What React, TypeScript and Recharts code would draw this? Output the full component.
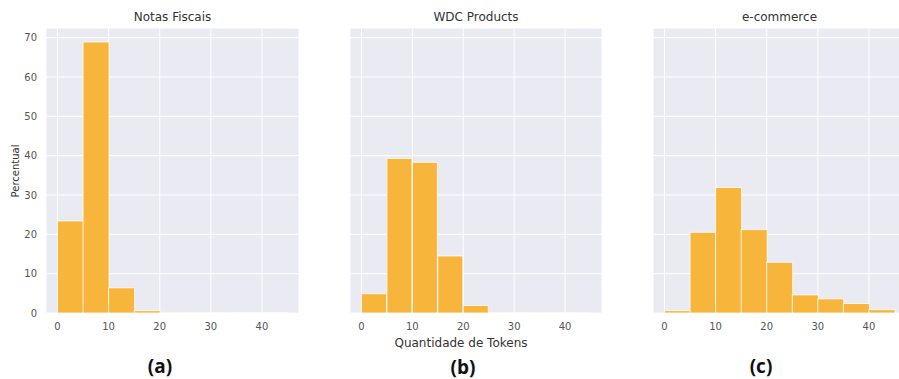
import React from 'react';
import { BarChart, Bar, XAxis, YAxis, CartesianGrid } from 'recharts';

const binStarts = [0, 5, 10, 15, 20, 25, 30, 35, 40];
const notasFiscais = [23.4, 68.9, 6.4, 0.6, 0.15, 0.05, 0.02, 0.01, 0.01];
const wdcProducts = [4.9, 39.3, 38.3, 14.5, 1.9, 0.1, 0.05, 0.08, 0.02];
const ecommerce = [0.6, 20.5, 31.9, 21.2, 12.9, 4.6, 3.6, 2.4, 0.85];
const xTicks = [0, 10, 20, 30, 40];
const yTicks = [0, 10, 20, 30, 40, 50, 60, 70];
const titles = ['Notas Fiscais', 'WDC Products', 'e-commerce'];
const panelLabels = ['(a)', '(b)', '(c)'];

const BIN = 5;
const toRows = (vals: number[]) => binStarts.map((s, i) => ({ x: s + BIN / 2, v: vals[i] }));

const FONT = '"DejaVu Sans", sans-serif';
const tickStyle = { fontSize: 10, fill: '#555', fontFamily: FONT };

function Panel({ vals, showY, width, marginLeft }: { vals: number[]; showY: boolean; width: number; marginLeft: number }) {
  return (
    <BarChart
      width={width}
      height={340}
      data={toRows(vals)}
      margin={{ top: 28, right: 10, bottom: 0, left: marginLeft }}
      barCategoryGap={0}
      barGap={0}
    >
      <CartesianGrid fill="#EAEAF2" stroke="#FFFFFF" strokeWidth={1} />
      <XAxis
        dataKey="x"
        type="number"
        domain={[-2.25, 47.25]}
        ticks={xTicks}
        height={27}
        axisLine={false}
        tickLine={false}
        tickSize={6}
        tickMargin={4}
        tick={tickStyle}
        allowDataOverflow
      />
      <YAxis
        type="number"
        domain={[0, 72.45]}
        ticks={yTicks}
        width={showY ? 46 : 0}
        hide={!showY}
        axisLine={false}
        tickLine={false}
        tickSize={6}
        tickMargin={3}
        tick={tickStyle}
        allowDataOverflow
      />
      <Bar dataKey="v" fill="#F8B53C" stroke="#FFFFFF" strokeOpacity={0.8} strokeWidth={1} isAnimationActive={false} />
    </BarChart>
  );
}

const textBox = (cx: number, cy: number, text: string, style: React.CSSProperties) => (
  <div
    style={{
      position: 'absolute',
      left: cx - 100,
      top: cy - 10,
      width: 200,
      height: 20,
      lineHeight: '20px',
      textAlign: 'center',
      whiteSpace: 'nowrap',
      ...style,
    }}
  >
    {text}
  </div>
);

export default function App() {
  const titleStyle: React.CSSProperties = { fontFamily: FONT, fontSize: 12, color: '#333' };
  const labelStyle: React.CSSProperties = { fontFamily: '"Open Sans", sans-serif', fontSize: 19, fontWeight: 700, color: '#111' };
  return (
    <div style={{ position: 'absolute', left: 0, top: 0, width: 899, height: 379, overflow: 'hidden', background: '#fff' }}>
      <div style={{ position: 'absolute', left: 0, top: 0 }}>
        <Panel vals={notasFiscais} showY={true} width={309} marginLeft={0} />
      </div>
      <div style={{ position: 'absolute', left: 340, top: 0 }}>
        <Panel vals={wdcProducts} showY={false} width={272} marginLeft={10} />
      </div>
      <div style={{ position: 'absolute', left: 643, top: 0 }}>
        <Panel vals={ecommerce} showY={false} width={273} marginLeft={10} />
      </div>
      {textBox(172.5, 17, titles[0], titleStyle)}
      {textBox(476, 17, titles[1], titleStyle)}
      {textBox(779.5, 17, titles[2], titleStyle)}
      <div
        style={{
          position: 'absolute',
          left: 16 - 50,
          top: 171 - 8,
          width: 100,
          height: 16,
          lineHeight: '16px',
          textAlign: 'center',
          fontFamily: FONT,
          fontSize: 10,
          color: '#333',
          transform: 'rotate(-90deg)',
        }}
      >
        Percentual
      </div>
      {textBox(461, 343, 'Quantidade de Tokens', { fontFamily: FONT, fontSize: 12, color: '#333' })}
      {textBox(160, 366, panelLabels[0], labelStyle)}
      {textBox(463, 367, panelLabels[1], labelStyle)}
      {textBox(761, 366, panelLabels[2], labelStyle)}
    </div>
  );
}
